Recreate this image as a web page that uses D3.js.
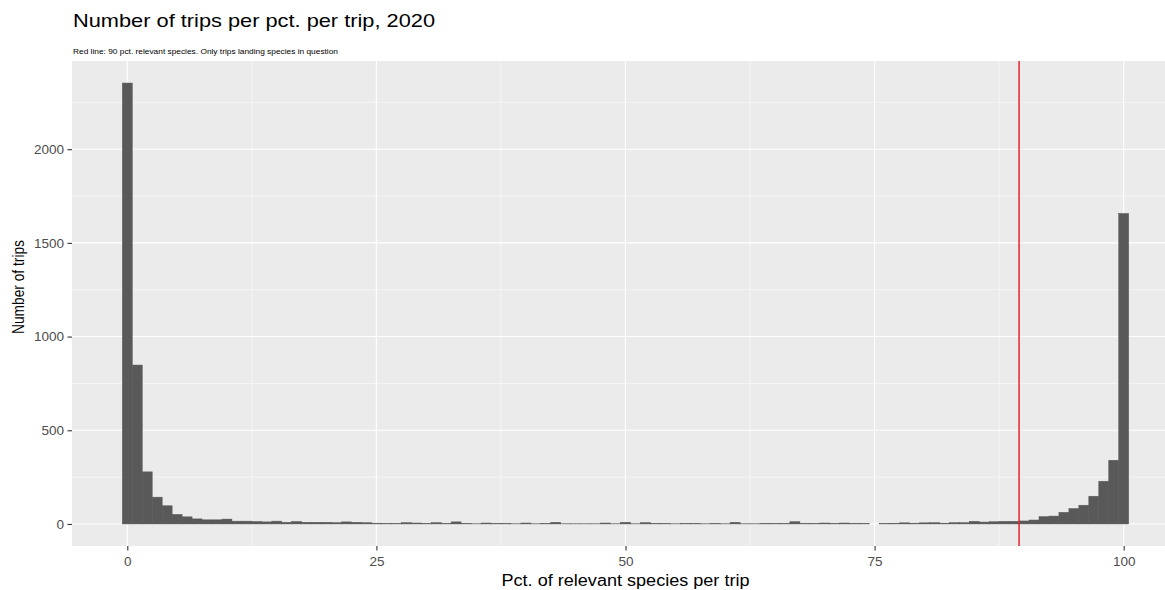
<!DOCTYPE html>
<html>
<head>
<meta charset="utf-8">
<script src="https://cdn.jsdelivr.net/npm/d3@7"></script>
<style>
  html, body { margin: 0; padding: 0; background: #ffffff; }
  svg { display: block; }
  text { font-family: "Liberation Sans", Arial, Helvetica, sans-serif; }
</style>
</head>
<body>
<svg id="chart" width="1165" height="590"></svg>
<script>
// ---- data ----
const bins = d3.range(0, 101); // pct. of relevant species (bin centres, width 1)
const counts = [
  2353, 848, 278, 143, 97, 51, 38, 27, 22, 22,
  26, 15, 15, 13, 11, 15, 9, 13, 9, 9,
  9, 7, 11, 9, 7, 4, 2, 2, 7, 5,
  2, 7, 2, 11, 2, 1, 5, 2, 2, 1,
  5, 1, 2, 9, 1, 1, 1, 1, 5, 1,
  9, 1, 7, 2, 2, 1, 2, 2, 1, 2,
  1, 9, 1, 1, 2, 2, 2, 12, 2, 2,
  5, 2, 5, 3, 2, 0, 2, 3, 6, 4,
  6, 7, 4, 7, 7, 14, 10, 12, 14, 14,
  16, 21, 39, 42, 62, 82, 100, 148, 228, 340,
  1657
];
const xTicks = [0, 25, 50, 75, 100];
const xMinor = [12.5, 37.5, 62.5, 87.5];
const yTicks = [0, 500, 1000, 1500, 2000];
const yMinor = [250, 750, 1250, 1750, 2250];
const refLine = 89.5;
const titleText = "Number of trips per pct. per trip, 2020";
const subtitleText = "Red line: 90 pct. relevant species. Only trips landing species in question";
const xTitle = "Pct. of relevant species per trip";
const yTitle = "Number of trips";

// ---- layout ----
const svg = d3.select("#chart");
const panel = { left: 72, right: 1179, top: 61, bottom: 546 };
const binW = 1;
const xMinD = -0.5, xMaxD = 100.5;
const xPad = (xMaxD - xMinD) * 0.05;
const yMax = d3.max(counts);
const yPad = yMax * 0.05;

const x = d3.scaleLinear().domain([xMinD - xPad, xMaxD + xPad]).range([panel.left, panel.right]);
const y = d3.scaleLinear().domain([-yPad, yMax + yPad]).range([panel.bottom, panel.top]);

// panel background
svg.append("rect")
  .attr("x", panel.left).attr("y", panel.top)
  .attr("width", panel.right - panel.left).attr("height", panel.bottom - panel.top)
  .attr("fill", "#EBEBEB");

const grid = svg.append("g");
grid.selectAll(".ymin").data(yMinor).join("line")
  .attr("x1", panel.left).attr("x2", panel.right)
  .attr("y1", d => y(d)).attr("y2", d => y(d))
  .attr("stroke", "#ffffff").attr("stroke-width", 0.55);
grid.selectAll(".xmin").data(xMinor).join("line")
  .attr("y1", panel.top).attr("y2", panel.bottom)
  .attr("x1", d => x(d)).attr("x2", d => x(d))
  .attr("stroke", "#ffffff").attr("stroke-width", 0.55);
grid.selectAll(".ymaj").data(yTicks).join("line")
  .attr("x1", panel.left).attr("x2", panel.right)
  .attr("y1", d => y(d)).attr("y2", d => y(d))
  .attr("stroke", "#ffffff").attr("stroke-width", 1.1);
grid.selectAll(".xmaj").data(xTicks).join("line")
  .attr("y1", panel.top).attr("y2", panel.bottom)
  .attr("x1", d => x(d)).attr("x2", d => x(d))
  .attr("stroke", "#ffffff").attr("stroke-width", 1.1);

// bars (thin same-colour outline hides anti-aliasing seams; empty bins draw nothing)
svg.append("g").selectAll("rect").data(bins).join("rect")
  .attr("x", (d) => x(d - binW / 2))
  .attr("width", (d) => x(d + binW / 2) - x(d - binW / 2))
  .attr("y", (d, i) => y(counts[i]))
  .attr("height", (d, i) => y(0) - y(counts[i]))
  .attr("fill", "#595959")
  .attr("stroke", (d, i) => counts[i] > 0 ? "#595959" : "none")
  .attr("stroke-width", 0.5);

// reference line
svg.append("line")
  .attr("x1", x(refLine)).attr("x2", x(refLine))
  .attr("y1", panel.top).attr("y2", panel.bottom)
  .attr("stroke", "#e3262b").attr("stroke-width", 1.5);

// axes
const yAxis = svg.append("g")
  .attr("transform", `translate(${panel.left},0)`)
  .call(d3.axisLeft(y).tickValues(yTicks).tickSize(4.5).tickPadding(3.5).tickFormat(d3.format("d")));
const xAxis = svg.append("g")
  .attr("transform", `translate(0,${panel.bottom})`)
  .call(d3.axisBottom(x).tickValues(xTicks).tickSize(4.5).tickPadding(5.5).tickFormat(d3.format("d")));
[yAxis, xAxis].forEach(a => {
  a.select(".domain").remove();
  a.selectAll(".tick line").attr("stroke", "#333333").attr("stroke-width", 1.1);
  a.selectAll(".tick text").attr("fill", "#4D4D4D").attr("font-size", 13.5)
    .style("font-family", "'Liberation Sans', Arial, Helvetica, sans-serif");
});

// titles
svg.append("text")
  .attr("x", 73).attr("y", 27)
  .attr("font-size", 18.5).attr("fill", "#000000")
  .attr("textLength", 362).attr("lengthAdjust", "spacingAndGlyphs")
  .text(titleText);
svg.append("text")
  .attr("x", 73).attr("y", 54)
  .attr("font-size", 6.6).attr("fill", "#000000")
  .attr("textLength", 265).attr("lengthAdjust", "spacingAndGlyphs")
  .text(subtitleText);
svg.append("text")
  .attr("x", (panel.left + panel.right) / 2).attr("y", 586)
  .attr("text-anchor", "middle")
  .attr("font-size", 16).attr("fill", "#000000")
  .attr("textLength", 248).attr("lengthAdjust", "spacingAndGlyphs")
  .text(xTitle);
svg.append("text")
  .attr("transform", "translate(24,287) rotate(-90)")
  .attr("text-anchor", "middle")
  .attr("font-size", 16.5).attr("fill", "#000000")
  .attr("textLength", 94).attr("lengthAdjust", "spacingAndGlyphs")
  .text(yTitle);
</script>
</body>
</html>
